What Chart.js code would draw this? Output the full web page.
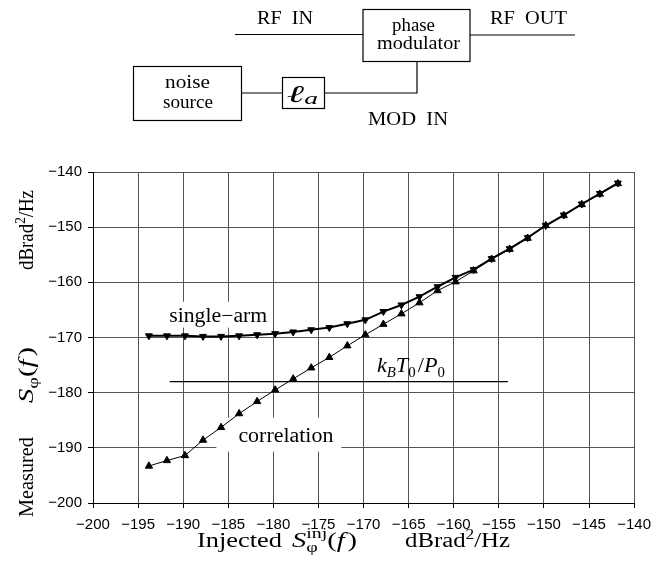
<!DOCTYPE html>
<html>
<head>
<meta charset="utf-8">
<script src="https://cdn.jsdelivr.net/npm/chart.js@4.4.1/dist/chart.umd.min.js"></script>
<style>
  html, body { margin: 0; padding: 0; background: #ffffff; }
  canvas { display: block; }
</style>
</head>
<body>
<canvas id="c" width="659" height="581"></canvas>
<script>
// ---------- data ----------
const injected = [-193.8, -191.8, -189.8, -187.8, -185.8, -183.8, -181.8, -179.8, -177.8,
                  -175.8, -173.8, -171.8, -169.8, -167.8, -165.8, -163.8, -161.8, -159.8,
                  -157.8, -155.8, -153.8, -151.8, -149.8, -147.8, -145.8, -143.8, -141.8];
const singleArm = [-169.7, -169.7, -169.7, -169.8, -169.8, -169.7, -169.5, -169.3, -169.0,
                   -168.6, -168.2, -167.5, -166.8, -165.3, -164.1, -162.6, -160.8, -159.1,
                   -157.7, -155.7, -153.9, -151.9, -149.7, -147.8, -145.8, -143.9, -142.0];
const correlation = [-193.3, -192.3, -191.4, -188.6, -186.3, -183.8, -181.6, -179.5, -177.5,
                     -175.5, -173.6, -171.5, -169.5, -167.6, -165.7, -163.7, -161.5, -159.9,
                     -157.9, -155.8, -154.0, -152.0, -149.7, -147.9, -145.9, -144.0, -142.1];
const kbtX = [-191.5, -154.0];
const kbtY = [-178.0, -178.0];
const xTicks = [-200, -195, -190, -185, -180, -175, -170, -165, -160, -155, -150, -145, -140];
const yTicks = [-200, -190, -180, -170, -160, -150, -140];

// ---------- annotation anchors (data units) ----------
const labelSingle = { x: -191.55, y: -167.13 };
const labelCorr   = { x: -183.88, y: -188.89 };
const labelKbt    = { x: -168.52, y: -176.25 };

const SERIF = '"Liberation Serif", "Times New Roman", serif';
const SANS = '"Liberation Sans", Arial, sans-serif';
const f = (size, italic) => (italic ? 'italic ' : '') + size + 'px ' + SERIF;

function drawRuns(ctx, runs, x, y, targetW, rotate) {
  const widths = runs.map(r => {
    if (r.stack) return Math.max(...r.stack.map(s => { ctx.font = s.f; return ctx.measureText(s.t).width; }));
    ctx.font = r.f; return ctx.measureText(r.t).width + (r.sp || 0);
  });
  const nat = widths.reduce((a, b) => a + b, 0);
  const sx = targetW ? targetW / nat : 1;
  ctx.save();
  ctx.translate(x, y);
  if (rotate) ctx.rotate(-Math.PI / 2);
  ctx.scale(sx, 1);
  ctx.fillStyle = '#000';
  ctx.textAlign = 'left';
  ctx.textBaseline = 'alphabetic';
  let cx = 0;
  runs.forEach((r, i) => {
    (r.stack || [r]).forEach(s => { ctx.font = s.f; ctx.fillText(s.t, cx, s.dy || 0); });
    cx += widths[i];
  });
  ctx.restore();
}

const annot = {
  id: 'annot',
  beforeDatasetsDraw(chart) {
    const { ctx, scales: { x, y } } = chart;
    // single-arm label with white background
    let px = x.getPixelForValue(labelSingle.x), py = y.getPixelForValue(labelSingle.y);
    ctx.save();
    ctx.fillStyle = '#fff';
    ctx.fillRect(px - 10, py - 20, 112, 26);
    ctx.restore();
    drawRuns(ctx, [{ t: 'single\u2212arm', f: f(20) }], px, py, 98);
    // correlation label with white background
    px = x.getPixelForValue(labelCorr.x); py = y.getPixelForValue(labelCorr.y);
    ctx.save();
    ctx.fillStyle = '#fff';
    ctx.fillRect(px - 22, py - 24, 125, 34);
    ctx.restore();
    drawRuns(ctx, [{ t: 'correlation', f: f(20) }], px, py, 95);
    // kBT0/P0
    px = x.getPixelForValue(labelKbt.x); py = y.getPixelForValue(labelKbt.y);
    drawRuns(ctx, [
      { t: 'k', f: f(21, true) }, { t: 'B', f: f(14, true), dy: 5 },
      { t: 'T', f: f(21, true) }, { t: '0', f: f(14), dy: 5, sp: 2 },
      { t: '/', f: f(21) }, { t: 'P', f: f(21, true) }, { t: '0', f: f(14), dy: 5 }
    ], px, py, 68);
  },
  afterDraw(chart) {
    const ctx = chart.ctx;
    // ---- axis titles ----
    drawRuns(ctx, [{ t: 'Injected', f: f(20) }], 197, 547, 85);
    drawRuns(ctx, [
      { t: 'S', f: f(20, true) },
      { stack: [{ t: '\u03C6', f: f(14), dy: 5 }, { t: 'inj', f: f(14), dy: -9 }], sp: 0 },
      { t: '(', f: f(20) }, { t: 'f', f: f(20, true), sp: 2 }, { t: ')', f: f(20) }
    ], 292, 547, 65);
    drawRuns(ctx, [{ t: 'dBrad', f: f(20) }, { t: '2', f: f(14), dy: -8 }, { t: '/Hz', f: f(20) }], 405, 547, 105);

    drawRuns(ctx, [{ t: 'Measured', f: f(20) }], 33, 517, 80, true);
    drawRuns(ctx, [
      { t: 'S', f: f(20, true) }, { t: '\u03C6', f: f(14), dy: 5 },
      { t: '(', f: f(20) }, { t: 'f', f: f(20, true), sp: 2 }, { t: ')', f: f(20) }
    ], 33, 403, 56, true);
    drawRuns(ctx, [{ t: 'dBrad', f: f(20) }, { t: '2', f: f(14), dy: -8 }, { t: '/Hz', f: f(20) }], 33, 270, 80, true);

    // ---- block diagram ----
    ctx.save();
    ctx.strokeStyle = '#000';
    ctx.lineWidth = 1.2;
    ctx.beginPath();
    ctx.moveTo(235, 34.5); ctx.lineTo(363, 34.5);
    ctx.moveTo(470, 35); ctx.lineTo(575, 35);
    ctx.moveTo(241.5, 93); ctx.lineTo(282.5, 93);
    ctx.moveTo(324.5, 93); ctx.lineTo(417, 93); ctx.lineTo(417, 61.5);
    ctx.stroke();
    ctx.strokeRect(363, 9.5, 107, 52);
    ctx.strokeRect(133.5, 66.5, 108, 54);
    ctx.strokeRect(282.5, 77.5, 42, 31);
    ctx.restore();

    drawRuns(ctx, [{ t: 'RF  IN', f: f(18) }], 257, 24, 56);
    drawRuns(ctx, [{ t: 'RF  OUT', f: f(18) }], 490, 24, 77);
    drawRuns(ctx, [{ t: 'phase', f: f(18) }], 392, 31, 43);
    drawRuns(ctx, [{ t: 'modulator', f: f(18) }], 377, 49, 83);
    drawRuns(ctx, [{ t: 'noise', f: f(18) }], 165, 88, 45);
    drawRuns(ctx, [{ t: 'source', f: f(18) }], 163, 108, 50);
    drawRuns(ctx, [{ t: 'MOD  IN', f: f(18) }], 368, 125, 80);
    drawRuns(ctx, [{ t: '\u2113', f: f(24, true) }, { t: 'a', f: f(16, true), dy: 2 }], 287, 102, 31);
  }
};

const pts = (xs, ys) => xs.map((v, i) => ({ x: v, y: ys[i] }));
const minusFmt = v => (v < 0 ? '\u2212' + Math.abs(v) : String(v));

new Chart(document.getElementById('c'), {
  type: 'line',
  data: {
    datasets: [
      {
        label: 'single-arm',
        data: pts(injected, singleArm),
        borderColor: '#000', backgroundColor: '#000', borderWidth: 2,
        pointStyle: 'triangle', rotation: 180, pointRadius: 4, pointBorderWidth: 1,
        tension: 0
      },
      {
        label: 'correlation',
        data: pts(injected, correlation),
        borderColor: '#000', backgroundColor: '#000', borderWidth: 1,
        pointStyle: 'triangle', pointRadius: 4.2, pointBorderWidth: 1,
        tension: 0
      },
      {
        label: 'kBT0/P0',
        data: pts(kbtX, kbtY),
        borderColor: '#000', borderWidth: 1.3, pointRadius: 0, tension: 0
      }
    ]
  },
  options: {
    responsive: false,
    animation: false,
    devicePixelRatio: 1,
    layout: { padding: { left: 0, right: 19, top: 172, bottom: 0 } },
    plugins: { legend: { display: false }, tooltip: { enabled: false } },
    scales: {
      x: {
        type: 'linear', min: -200, max: -140,
        afterBuildTicks: s => { s.ticks = xTicks.map(v => ({ value: v })); },
        afterFit: s => { s.height = 78; },
        ticks: { callback: minusFmt, color: '#000', font: { family: SANS, size: 15 }, padding: 8, maxRotation: 0, autoSkip: false },
        grid: { color: '#555', lineWidth: 1, tickLength: 5, tickColor: '#000' },
        border: { color: '#000', width: 1 }
      },
      y: {
        type: 'linear', min: -200, max: -140,
        afterBuildTicks: s => { s.ticks = yTicks.map(v => ({ value: v })); },
        afterFit: s => { s.width = 93; },
        ticks: { callback: minusFmt, color: '#000', font: { family: SANS, size: 15 }, padding: 6, autoSkip: false },
        grid: { color: '#555', lineWidth: 1, tickLength: 5, tickColor: '#000' },
        border: { color: '#000', width: 1 }
      }
    }
  },
  plugins: [annot]
});
</script>
</body>
</html>
